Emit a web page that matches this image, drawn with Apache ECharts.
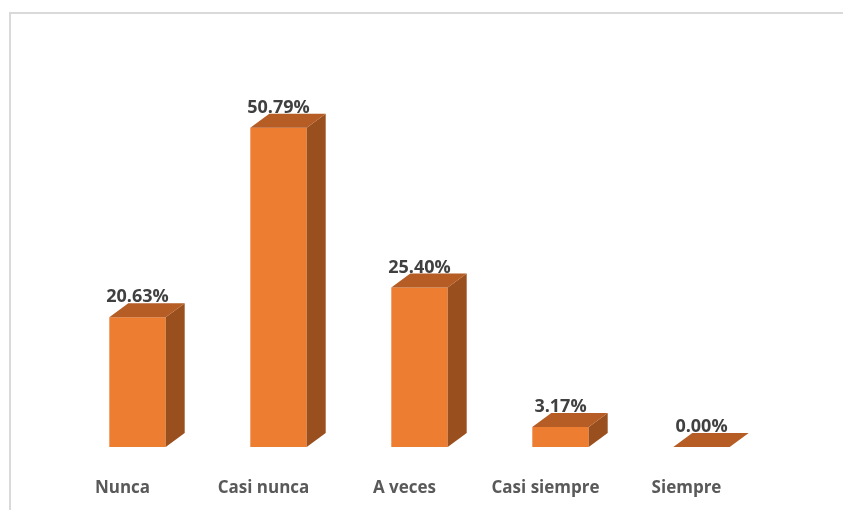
<!DOCTYPE html>
<html>
<head>
<meta charset="utf-8">
<script src="https://cdn.jsdelivr.net/npm/echarts@6/dist/echarts.min.js"></script>
<style>
  html, body { margin: 0; padding: 0; background: #fff; }
  #wrap { position: relative; width: 843px; height: 510px; }
  #frame { position: absolute; left: 9px; top: 12px; right: 0; bottom: 0;
           border-top: 2px solid #d9d9d9; border-left: 2px solid #d9d9d9; }
  #chart { position: absolute; left: 0; top: 0; width: 843px; height: 510px; }
</style>
</head>
<body>
<div id="wrap">
  <div id="frame"></div>
  <div id="chart"></div>
</div>
<script>
const categories = ['Nunca', 'Casi nunca', 'A veces', 'Casi siempre', 'Siempre'];
const values = [20.63, 50.79, 25.40, 3.17, 0.00];
const valueLabels = ['20.63%', '50.79%', '25.40%', '3.17%', '0.00%'];

const FRONT = '#ED7D31';
const TOP = '#B55D24';
const SIDE = '#9A4F1E';
const DX = 19, DY = 14, SHIFT = 15;

const chart = echarts.init(document.getElementById('chart'), null, { renderer: 'canvas' });

chart.setOption({
  animation: false,
  grid: { left: 52, right: 86, top: 70, bottom: 63 },
  xAxis: {
    type: 'category',
    data: categories,
    axisLine: { show: false },
    axisTick: { show: false },
    axisLabel: {
      margin: 33,
      color: '#595959',
      fontFamily: 'Open Sans',
      fontWeight: 'bold',
      fontSize: 17
    }
  },
  yAxis: {
    type: 'value',
    min: 0,
    max: 60,
    show: false,
    splitLine: { show: false }
  },
  series: [{
    type: 'custom',
    data: values.map((v, i) => [i, v]),
    renderItem: function (params, api) {
      const i = api.value(0);
      const v = api.value(1);
      const top = api.coord([i, v]);
      const base = api.coord([i, 0]);
      const bw = api.size([1, 0])[0] * 0.4;
      const x0 = top[0] + SHIFT - bw / 2;
      const x1 = x0 + bw;
      const yt = top[1];
      const yb = base[1];
      const children = [];
      if (yb - yt > 0.5) {
        children.push({
          type: 'rect',
          shape: { x: x0, y: yt, width: bw, height: yb - yt },
          style: { fill: FRONT }
        });
        children.push({
          type: 'polygon',
          shape: { points: [[x1, yt], [x1 + DX, yt - DY], [x1 + DX, yb - DY], [x1, yb]] },
          style: { fill: SIDE }
        });
      }
      children.push({
        type: 'polygon',
        shape: { points: [[x0, yt], [x1, yt], [x1 + DX, yt - DY], [x0 + DX, yt - DY]] },
        style: { fill: TOP }
      });
      children.push({
        type: 'text',
        x: top[0] + SHIFT,
        y: yt - DY + 3,
        style: {
          text: valueLabels[params.dataIndex],
          fill: '#404040',
          font: 'bold 18px "Open Sans"',
          align: 'center',
          verticalAlign: 'bottom'
        }
      });
      return { type: 'group', children: children };
    }
  }]
});
</script>
</body>
</html>
